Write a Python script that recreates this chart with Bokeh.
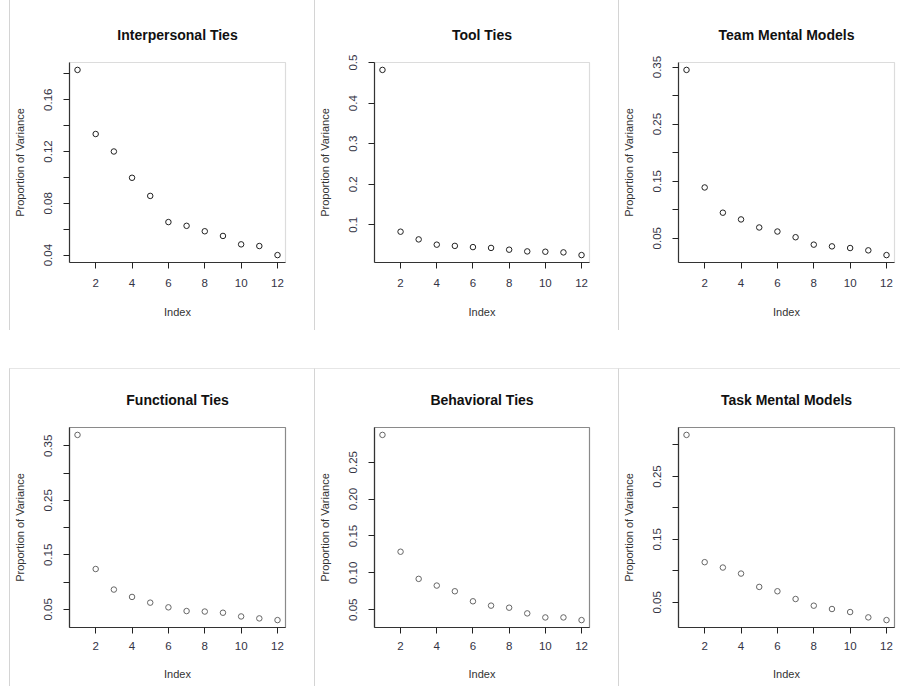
import math
from bokeh.plotting import figure
from bokeh.layouts import column, row
from bokeh.models import FixedTicker, Range1d, Spacer
from bokeh.embed import file_html
from bokeh.resources import INLINE

# ---------------- data ----------------
index = list(range(1, 13))

titles = ["Interpersonal Ties", "Tool Ties", "Team Mental Models",
          "Functional Ties", "Behavioral Ties", "Task Mental Models"]

interpersonal = [0.183, 0.1335, 0.120, 0.0997, 0.0857, 0.0655, 0.0626, 0.0584, 0.0548, 0.0483, 0.047, 0.040]
tool = [0.482, 0.083, 0.064, 0.051, 0.048, 0.045, 0.043, 0.0386, 0.0344, 0.0336, 0.032, 0.0253]
team_mm = [0.345, 0.139, 0.0948, 0.083, 0.0689, 0.0618, 0.0518, 0.0388, 0.0358, 0.0329, 0.0288, 0.0205]
functional = [0.370, 0.124, 0.0863, 0.0728, 0.0623, 0.0537, 0.0469, 0.046, 0.0438, 0.037, 0.0334, 0.0303]
behavioral = [0.287, 0.1286, 0.0918, 0.0827, 0.075, 0.0614, 0.0555, 0.0527, 0.045, 0.0395, 0.0395, 0.0359]
task_mm = [0.316, 0.1138, 0.1053, 0.0957, 0.0745, 0.0676, 0.0553, 0.0447, 0.0394, 0.0346, 0.0261, 0.0218]

x_ticks = [2, 4, 6, 8, 10, 12]

interpersonal_ticks = [0.04, 0.06, 0.08, 0.10, 0.12, 0.14, 0.16, 0.18]
interpersonal_labels = ["0.04", "", "0.08", "", "0.12", "", "0.16", ""]
tool_ticks = [0.1, 0.2, 0.3, 0.4, 0.5]
tool_labels = ["0.1", "0.2", "0.3", "0.4", "0.5"]
team_ticks = [0.05, 0.10, 0.15, 0.20, 0.25, 0.30, 0.35]
team_labels = ["0.05", "", "0.15", "", "0.25", "", "0.35"]
functional_ticks = [0.05, 0.10, 0.15, 0.20, 0.25, 0.30, 0.35]
functional_labels = ["0.05", "", "0.15", "", "0.25", "", "0.35"]
behavioral_ticks = [0.05, 0.10, 0.15, 0.20, 0.25]
behavioral_labels = ["0.05", "0.10", "0.15", "0.20", "0.25"]
task_ticks = [0.05, 0.10, 0.15, 0.20, 0.25, 0.30]
task_labels = ["0.05", "", "0.15", "", "0.25", ""]

FONT = "Liberation Sans"


def make_panel(title, values, ticks, labels, width, height, bl, br, bt, bb,
               outline, marker_color, title_standoff, x_lab_standoff, x_axis_standoff,
               sep_top=False):
    lo, hi = min(values), max(values)
    pad = 0.04 * (hi - lo)
    xpad = 0.04 * (max(index) - min(index))
    p = figure(width=width, height=height, output_backend="svg", toolbar_location=None,
               x_range=Range1d(min(index) - xpad, max(index) + xpad),
               y_range=Range1d(lo - pad, hi + pad),
               min_border_left=bl, min_border_right=br, min_border_top=bt, min_border_bottom=bb,
               title=title)
    styles = {"border-left": "1px solid #d4d4d4"}
    if sep_top:
        styles["border-top"] = "1px solid #e6e6e6"
    p.styles = styles
    p.title.align = "center"
    p.title.text_font = FONT
    p.title.text_font_size = "14px"
    p.title.text_font_style = "bold"
    p.title.text_color = "#111111"
    p.title.standoff = title_standoff

    p.xgrid.visible = False
    p.ygrid.visible = False
    p.outline_line_color = outline
    p.outline_line_width = 1.2
    p.background_fill_color = "white"
    p.border_fill_color = "white"

    for ax in (p.xaxis[0], p.yaxis[0]):
        ax.minor_tick_line_color = None
        ax.major_tick_in = 0
        ax.major_tick_out = 6
        ax.major_tick_line_color = "#222222"
        ax.axis_line_color = "#333333"
        ax.axis_line_width = 1.2
        ax.major_label_text_font = FONT
        ax.major_label_text_font_size = "11.5px"
        ax.major_label_text_color = "#333344"
        ax.axis_label_text_font = FONT
        ax.axis_label_text_font_size = "11px"
        ax.axis_label_text_font_style = "normal"
        ax.axis_label_text_color = "#333333"

    p.xaxis.ticker = FixedTicker(ticks=x_ticks)
    p.xaxis.axis_label = "Index"
    p.xaxis.major_label_standoff = x_lab_standoff
    p.xaxis.axis_label_standoff = x_axis_standoff

    p.yaxis.ticker = FixedTicker(ticks=ticks)
    p.yaxis.major_label_overrides = {t: l for t, l in zip(ticks, labels)}
    p.yaxis.major_label_orientation = "parallel"
    p.yaxis.axis_label = "Proportion of Variance"
    p.yaxis.major_label_standoff = 11
    p.yaxis.axis_label_standoff = 16

    p.scatter(index, values, marker="circle", size=5.5, fill_color=None,
              line_color=marker_color, line_width=1)
    return p


top_specs = [
    (titles[0], interpersonal, interpersonal_ticks, interpersonal_labels, 305, 59, 30),
    (titles[1], tool, tool_ticks, tool_labels, 304, 59, 30),
    (titles[2], team_mm, team_ticks, team_labels, 282, 59, 7),
]
bottom_specs = [
    (titles[3], functional, functional_ticks, functional_labels, 305, 59, 30),
    (titles[4], behavioral, behavioral_ticks, behavioral_labels, 304, 59, 30),
    (titles[5], task_mm, task_ticks, task_labels, 282, 59, 7),
]

top = [make_panel(t, v, tk, lb, w, 330, bl, br, 62, 68, "#dcdcdc", "#222222", 39, 10, 16)
       for (t, v, tk, lb, w, bl, br) in top_specs]
bottom = [make_panel(t, v, tk, lb, w, 318, bl, br, 58, 60, "#8a8a8a", "#666666", 40, 8, 15,
                     sep_top=True)
          for (t, v, tk, lb, w, bl, br) in bottom_specs]

layout = column(row(Spacer(width=9, height=330), *top),
                Spacer(width=900, height=38),
                row(Spacer(width=9, height=318), *bottom))

open("out.html", "w").write(file_html(layout, INLINE))
